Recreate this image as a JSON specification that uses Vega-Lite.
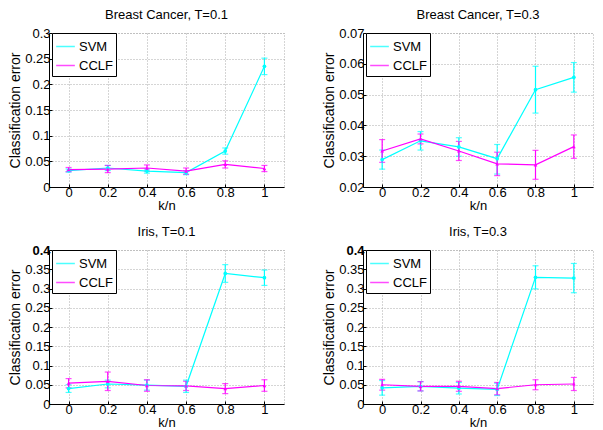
{
  "$schema": "https://vega.github.io/schema/vega-lite/v6.json",
  "padding": {"left": 8, "top": 8, "right": 0, "bottom": 0},
  "background": "white",
  "datasets": {
    "d": [
      {"p": "bc1", "m": "SVM", "k": 0, "v": 0.032, "lo": 0.029, "hi": 0.035},
      {"p": "bc1", "m": "SVM", "k": 0.2, "v": 0.037, "lo": 0.032, "hi": 0.042},
      {"p": "bc1", "m": "SVM", "k": 0.4, "v": 0.031, "lo": 0.027, "hi": 0.035},
      {"p": "bc1", "m": "SVM", "k": 0.6, "v": 0.028, "lo": 0.024, "hi": 0.032},
      {"p": "bc1", "m": "SVM", "k": 0.8, "v": 0.070, "lo": 0.064, "hi": 0.076},
      {"p": "bc1", "m": "SVM", "k": 1, "v": 0.235, "lo": 0.219, "hi": 0.251},
      {"p": "bc1", "m": "CCLF", "k": 0, "v": 0.034, "lo": 0.030, "hi": 0.038},
      {"p": "bc1", "m": "CCLF", "k": 0.2, "v": 0.035, "lo": 0.028, "hi": 0.042},
      {"p": "bc1", "m": "CCLF", "k": 0.4, "v": 0.037, "lo": 0.031, "hi": 0.043},
      {"p": "bc1", "m": "CCLF", "k": 0.6, "v": 0.031, "lo": 0.025, "hi": 0.037},
      {"p": "bc1", "m": "CCLF", "k": 0.8, "v": 0.044, "lo": 0.037, "hi": 0.051},
      {"p": "bc1", "m": "CCLF", "k": 1, "v": 0.036, "lo": 0.030, "hi": 0.042},

      {"p": "bc3", "m": "SVM", "k": 0, "v": 0.0289, "lo": 0.0258, "hi": 0.0320},
      {"p": "bc3", "m": "SVM", "k": 0.2, "v": 0.0350, "lo": 0.0320, "hi": 0.0380},
      {"p": "bc3", "m": "SVM", "k": 0.4, "v": 0.0330, "lo": 0.0300, "hi": 0.0360},
      {"p": "bc3", "m": "SVM", "k": 0.6, "v": 0.0292, "lo": 0.0242, "hi": 0.0338},
      {"p": "bc3", "m": "SVM", "k": 0.8, "v": 0.0516, "lo": 0.0440, "hi": 0.0592},
      {"p": "bc3", "m": "SVM", "k": 1, "v": 0.0556, "lo": 0.0508, "hi": 0.0604},
      {"p": "bc3", "m": "CCLF", "k": 0, "v": 0.0317, "lo": 0.0280, "hi": 0.0354},
      {"p": "bc3", "m": "CCLF", "k": 0.2, "v": 0.0356, "lo": 0.0340, "hi": 0.0372},
      {"p": "bc3", "m": "CCLF", "k": 0.4, "v": 0.0317, "lo": 0.0286, "hi": 0.0348},
      {"p": "bc3", "m": "CCLF", "k": 0.6, "v": 0.0275, "lo": 0.0237, "hi": 0.0313},
      {"p": "bc3", "m": "CCLF", "k": 0.8, "v": 0.0272, "lo": 0.0225, "hi": 0.0319},
      {"p": "bc3", "m": "CCLF", "k": 1, "v": 0.0331, "lo": 0.0293, "hi": 0.0369},

      {"p": "ir1", "m": "SVM", "k": 0, "v": 0.040, "lo": 0.030, "hi": 0.050},
      {"p": "ir1", "m": "SVM", "k": 0.2, "v": 0.052, "lo": 0.042, "hi": 0.062},
      {"p": "ir1", "m": "SVM", "k": 0.4, "v": 0.049, "lo": 0.036, "hi": 0.062},
      {"p": "ir1", "m": "SVM", "k": 0.6, "v": 0.046, "lo": 0.030, "hi": 0.062},
      {"p": "ir1", "m": "SVM", "k": 0.8, "v": 0.339, "lo": 0.316, "hi": 0.362},
      {"p": "ir1", "m": "SVM", "k": 1, "v": 0.328, "lo": 0.308, "hi": 0.348},
      {"p": "ir1", "m": "CCLF", "k": 0, "v": 0.054, "lo": 0.042, "hi": 0.066},
      {"p": "ir1", "m": "CCLF", "k": 0.2, "v": 0.059, "lo": 0.035, "hi": 0.083},
      {"p": "ir1", "m": "CCLF", "k": 0.4, "v": 0.048, "lo": 0.033, "hi": 0.063},
      {"p": "ir1", "m": "CCLF", "k": 0.6, "v": 0.047, "lo": 0.035, "hi": 0.059},
      {"p": "ir1", "m": "CCLF", "k": 0.8, "v": 0.040, "lo": 0.027, "hi": 0.053},
      {"p": "ir1", "m": "CCLF", "k": 1, "v": 0.048, "lo": 0.033, "hi": 0.063},

      {"p": "ir3", "m": "SVM", "k": 0, "v": 0.042, "lo": 0.023, "hi": 0.061},
      {"p": "ir3", "m": "SVM", "k": 0.2, "v": 0.046, "lo": 0.034, "hi": 0.058},
      {"p": "ir3", "m": "SVM", "k": 0.4, "v": 0.041, "lo": 0.026, "hi": 0.056},
      {"p": "ir3", "m": "SVM", "k": 0.6, "v": 0.038, "lo": 0.022, "hi": 0.054},
      {"p": "ir3", "m": "SVM", "k": 0.8, "v": 0.329, "lo": 0.299, "hi": 0.359},
      {"p": "ir3", "m": "SVM", "k": 1, "v": 0.327, "lo": 0.289, "hi": 0.365},
      {"p": "ir3", "m": "CCLF", "k": 0, "v": 0.050, "lo": 0.036, "hi": 0.064},
      {"p": "ir3", "m": "CCLF", "k": 0.2, "v": 0.046, "lo": 0.034, "hi": 0.058},
      {"p": "ir3", "m": "CCLF", "k": 0.4, "v": 0.046, "lo": 0.033, "hi": 0.059},
      {"p": "ir3", "m": "CCLF", "k": 0.6, "v": 0.040, "lo": 0.024, "hi": 0.056},
      {"p": "ir3", "m": "CCLF", "k": 0.8, "v": 0.050, "lo": 0.037, "hi": 0.063},
      {"p": "ir3", "m": "CCLF", "k": 1, "v": 0.052, "lo": 0.035, "hi": 0.069}
    ]
  },
  "data": {"name": "d"},
  "spacing": 12,
  "vconcat": [
    {
      "spacing": 37,
      "hconcat": [
        {
          "title": "Breast Cancer, T=0.1",
          "width": 235, "height": 154,
          "transform": [{"filter": "datum.p == 'bc1'"}],
          "encoding": {
            "x": {"field": "k", "type": "quantitative", "scale": {"domain": [-0.1, 1.1], "nice": false, "zero": false}, "axis": {"values": [0, 0.2, 0.4, 0.6, 0.8, 1], "title": "k/n", "format": "~g"}},
            "color": {"field": "m", "type": "nominal", "scale": {"domain": ["SVM", "CCLF"], "range": ["#00ffff", "#ff00ff"]}, "legend": {"title": null, "symbolType": "stroke", "symbolSize": 350, "symbolStrokeWidth": 1.5}}
          },
          "layer": [
            {"mark": {"type": "errorbar", "ticks": {"size": 6}, "thickness": 1.2}, "encoding": {"y": {"field": "lo", "type": "quantitative", "title": "Classification error", "scale": {"domain": [0, 0.3], "nice": false}, "axis": {"values": [0, 0.05, 0.1, 0.15, 0.2, 0.25, 0.3], "format": "~g"}}, "y2": {"field": "hi"}}},
            {"mark": {"type": "line", "strokeWidth": 1.2}, "encoding": {"y": {"field": "v", "type": "quantitative", "title": "Classification error", "axis": {"values": [0, 0.05, 0.1, 0.15, 0.2, 0.25, 0.3], "format": "~g"}}}},
            {"mark": {"type": "point", "filled": true, "size": 14, "opacity": 1}, "encoding": {"y": {"field": "v", "type": "quantitative", "title": "Classification error", "axis": {"values": [0, 0.05, 0.1, 0.15, 0.2, 0.25, 0.3], "format": "~g"}}, "shape": {"condition": {"test": "datum.m == 'SVM'", "value": "circle"}, "value": "triangle-up"}}}
          ]
        },
        {
          "title": "Breast Cancer, T=0.3",
          "width": 230, "height": 154,
          "transform": [{"filter": "datum.p == 'bc3'"}],
          "encoding": {
            "x": {"field": "k", "type": "quantitative", "scale": {"domain": [-0.1, 1.1], "nice": false, "zero": false}, "axis": {"values": [0, 0.2, 0.4, 0.6, 0.8, 1], "title": "k/n", "format": "~g"}},
            "color": {"field": "m", "type": "nominal", "scale": {"domain": ["SVM", "CCLF"], "range": ["#00ffff", "#ff00ff"]}, "legend": {"title": null, "symbolType": "stroke", "symbolSize": 350, "symbolStrokeWidth": 1.5}}
          },
          "layer": [
            {"mark": {"type": "errorbar", "ticks": {"size": 6}, "thickness": 1.2}, "encoding": {"y": {"field": "lo", "type": "quantitative", "title": "Classification error", "scale": {"domain": [0.02, 0.07], "nice": false, "zero": false}, "axis": {"values": [0.02, 0.03, 0.04, 0.05, 0.06, 0.07], "format": "~g"}}, "y2": {"field": "hi"}}},
            {"mark": {"type": "line", "strokeWidth": 1.2}, "encoding": {"y": {"field": "v", "type": "quantitative", "title": "Classification error", "axis": {"values": [0.02, 0.03, 0.04, 0.05, 0.06, 0.07], "format": "~g"}}}},
            {"mark": {"type": "point", "filled": true, "size": 14, "opacity": 1}, "encoding": {"y": {"field": "v", "type": "quantitative", "title": "Classification error", "axis": {"values": [0.02, 0.03, 0.04, 0.05, 0.06, 0.07], "format": "~g"}}, "shape": {"condition": {"test": "datum.m == 'SVM'", "value": "circle"}, "value": "triangle-up"}}}
          ]
        }
      ],
      "resolve": {"scale": {"color": "independent", "y": "independent", "x": "independent"}, "legend": {"color": "independent"}}
    },
    {
      "spacing": 37,
      "hconcat": [
        {
          "title": "Iris, T=0.1",
          "width": 235, "height": 154,
          "transform": [{"filter": "datum.p == 'ir1'"}],
          "encoding": {
            "x": {"field": "k", "type": "quantitative", "scale": {"domain": [-0.1, 1.1], "nice": false, "zero": false}, "axis": {"values": [0, 0.2, 0.4, 0.6, 0.8, 1], "title": "k/n", "format": "~g"}},
            "color": {"field": "m", "type": "nominal", "scale": {"domain": ["SVM", "CCLF"], "range": ["#00ffff", "#ff00ff"]}, "legend": {"title": null, "symbolType": "stroke", "symbolSize": 350, "symbolStrokeWidth": 1.5}}
          },
          "layer": [
            {"mark": {"type": "errorbar", "ticks": {"size": 6}, "thickness": 1.2}, "encoding": {"y": {"field": "lo", "type": "quantitative", "title": "Classification error", "scale": {"domain": [0, 0.4], "nice": false}, "axis": {"values": [0, 0.05, 0.1, 0.15, 0.2, 0.25, 0.3, 0.35, 0.4], "format": "~g", "labelFontWeight": {"condition": {"test": "datum.value >= 0.4", "value": "bold"}, "value": "normal"}}}, "y2": {"field": "hi"}}},
            {"mark": {"type": "line", "strokeWidth": 1.2}, "encoding": {"y": {"field": "v", "type": "quantitative", "title": "Classification error", "axis": {"values": [0, 0.05, 0.1, 0.15, 0.2, 0.25, 0.3, 0.35, 0.4], "format": "~g", "labelFontWeight": {"condition": {"test": "datum.value >= 0.4", "value": "bold"}, "value": "normal"}}}}},
            {"mark": {"type": "point", "filled": true, "size": 14, "opacity": 1}, "encoding": {"y": {"field": "v", "type": "quantitative", "title": "Classification error", "axis": {"values": [0, 0.05, 0.1, 0.15, 0.2, 0.25, 0.3, 0.35, 0.4], "format": "~g", "labelFontWeight": {"condition": {"test": "datum.value >= 0.4", "value": "bold"}, "value": "normal"}}}, "shape": {"condition": {"test": "datum.m == 'SVM'", "value": "circle"}, "value": "triangle-up"}}}
          ]
        },
        {
          "title": "Iris, T=0.3",
          "width": 230, "height": 154,
          "transform": [{"filter": "datum.p == 'ir3'"}],
          "encoding": {
            "x": {"field": "k", "type": "quantitative", "scale": {"domain": [-0.1, 1.1], "nice": false, "zero": false}, "axis": {"values": [0, 0.2, 0.4, 0.6, 0.8, 1], "title": "k/n", "format": "~g"}},
            "color": {"field": "m", "type": "nominal", "scale": {"domain": ["SVM", "CCLF"], "range": ["#00ffff", "#ff00ff"]}, "legend": {"title": null, "symbolType": "stroke", "symbolSize": 350, "symbolStrokeWidth": 1.5}}
          },
          "layer": [
            {"mark": {"type": "errorbar", "ticks": {"size": 6}, "thickness": 1.2}, "encoding": {"y": {"field": "lo", "type": "quantitative", "title": "Classification error", "scale": {"domain": [0, 0.4], "nice": false}, "axis": {"values": [0, 0.05, 0.1, 0.15, 0.2, 0.25, 0.3, 0.35, 0.4], "format": "~g", "labelFontWeight": {"condition": {"test": "datum.value >= 0.4", "value": "bold"}, "value": "normal"}}}, "y2": {"field": "hi"}}},
            {"mark": {"type": "line", "strokeWidth": 1.2}, "encoding": {"y": {"field": "v", "type": "quantitative", "title": "Classification error", "axis": {"values": [0, 0.05, 0.1, 0.15, 0.2, 0.25, 0.3, 0.35, 0.4], "format": "~g", "labelFontWeight": {"condition": {"test": "datum.value >= 0.4", "value": "bold"}, "value": "normal"}}}}},
            {"mark": {"type": "point", "filled": true, "size": 14, "opacity": 1}, "encoding": {"y": {"field": "v", "type": "quantitative", "title": "Classification error", "axis": {"values": [0, 0.05, 0.1, 0.15, 0.2, 0.25, 0.3, 0.35, 0.4], "format": "~g", "labelFontWeight": {"condition": {"test": "datum.value >= 0.4", "value": "bold"}, "value": "normal"}}}, "shape": {"condition": {"test": "datum.m == 'SVM'", "value": "circle"}, "value": "triangle-up"}}}
          ]
        }
      ],
      "resolve": {"scale": {"color": "independent", "y": "independent", "x": "independent"}, "legend": {"color": "independent"}}
    }
  ],
  "resolve": {"scale": {"color": "independent", "y": "independent", "x": "independent"}, "legend": {"color": "independent"}},
  "config": {
    "font": "Liberation Sans",
    "view": {"stroke": "#aaaaaa", "strokeDash": [1, 2], "strokeWidth": 1},
    "title": {"fontSize": 13, "fontWeight": "normal", "color": "black", "offset": 5},
    "axis": {
      "labelFontSize": 13, "titleFontSize": 13, "titleFontWeight": "normal",
      "labelColor": "black", "titleColor": "black", "labelOverlap": false,
      "domainColor": "black", "domainWidth": 1,
      "tickColor": "black", "tickSize": -3,
      "gridColor": "#aaaaaa", "gridDash": [1, 2], "gridOpacity": 1, "gridWidth": 1
    },
    "axisY": {"titlePadding": 2, "labelPadding": 2, "titleFontSize": 14},
    "axisX": {"titlePadding": 0, "labelPadding": 2},
    "legend": {
      "orient": "none", "legendX": 3, "legendY": 0, "padding": 3,
      "strokeColor": "black", "fillColor": "white", "cornerRadius": 0,
      "labelFontSize": 13, "labelColor": "black", "rowPadding": 1, "labelOffset": 3
    }
  }
}
